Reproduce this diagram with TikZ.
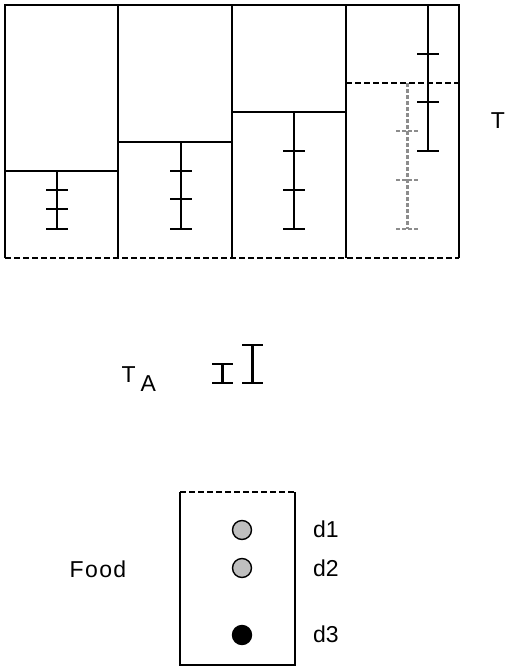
\documentclass[tikz,border=0pt]{standalone}
\usepackage{fontspec}
\setmainfont{Liberation Sans}
\begin{document}
\begin{tikzpicture}[x=1pt,y=-1pt,
  frame/.style={line width=2.4pt, black},
  dashframe/.style={line width=2.4pt, black, dash pattern=on 6pt off 3pt},
  bar/.style={line width=2.4pt, black},
  graybar/.style={line width=2.8pt, black!45, dash pattern=on 4pt off 2pt},
  lab/.style={font=\fontsize{23}{27}\selectfont, inner sep=0pt},
  dot/.style={circle, draw=black, line width=1.4pt, minimum size=19pt, inner sep=0pt}]
\useasboundingbox (0,0) rectangle (514,672);
% top box
\draw[frame] (5,258) -- (5,5) -- (459,5) -- (459,258);
\draw[dashframe] (5,258) -- (459,258);
\draw[frame] (118,5) -- (118,258);
\draw[frame] (232,5) -- (232,258);
\draw[frame] (346,5) -- (346,258);
\draw[frame] (5,171) -- (118,171);
\draw[frame] (118,142) -- (232,142);
\draw[frame] (232,112) -- (346,112);
\draw[dashframe] (346,83) -- (459,83);
% error bars column 1
\draw[bar] (57,171) -- (57,229);
\foreach \y in {190,209,229} \draw[bar] (46,\y) -- (68,\y);
% column 2
\draw[bar] (181,142) -- (181,229);
\foreach \y in {171,199,229} \draw[bar] (170,\y) -- (192,\y);
% column 3
\draw[bar] (294,112) -- (294,229);
\foreach \y in {151,190,229} \draw[bar] (283,\y) -- (305,\y);
% column 4 gray
\draw[graybar] (407.5,83) -- (407.5,229);
\foreach \y in {131,180,229} \draw[graybar] (396,\y) -- (419,\y);
% column 4 black
\draw[bar] (428,5) -- (428,151);
\foreach \y in {54,102,151} \draw[bar] (417,\y) -- (439,\y);
\node[lab] (T) at (498,121) {T};
% T_A
\node[lab, anchor=base west] (TAt) at (121.5,382) {T};
\node[lab, anchor=base west] (TAa) at (140.5,391) {A};
\draw[bar] (222.5,364) -- (222.5,383);
\draw[bar] (212,364) -- (233,364);
\draw[bar] (212,383) -- (233,383);
\draw[bar] (252.5,345) -- (252.5,383);
\draw[bar] (242,345) -- (263,345);
\draw[bar] (242,383) -- (263,383);
% Food box
\draw[frame] (180,492) -- (180,665) -- (295,665) -- (295,492);
\draw[dashframe] (180,492) -- (295,492);
\node[dot, fill=black!25] (d1c) at (242,530) {};
\node[dot, fill=black!25] (d2c) at (242,568) {};
\node[dot, fill=black] (d3c) at (242,635) {};
\node[lab] (d1) at (326,529) {d1};
\node[lab] (d2) at (326,568) {d2};
\node[lab] (d3) at (326,634) {d3};
\node[lab, font=\fontsize{23}{27}\selectfont\addfontfeature{LetterSpace=6}] (food) at (98,569) {Food};
\end{tikzpicture}
\end{document}
